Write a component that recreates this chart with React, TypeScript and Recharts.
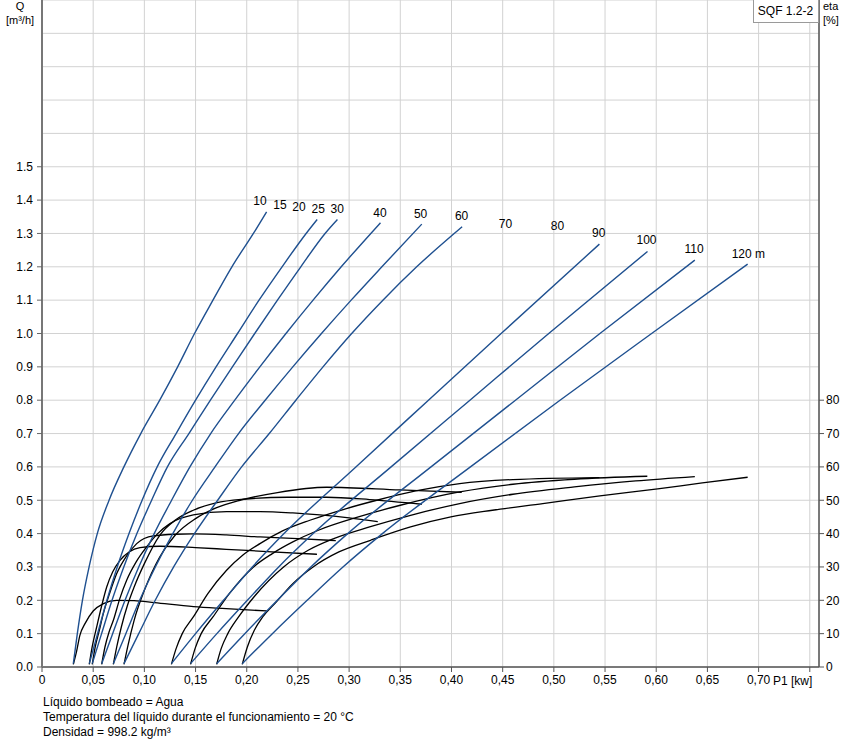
import React from 'react';
import { ComposedChart, Line, XAxis, YAxis, CartesianGrid, Scatter } from 'recharts';

// ---- axis ticks ----
const P_TICKS = [0, 0.05, 0.1, 0.15, 0.2, 0.25, 0.3, 0.35, 0.4, 0.45, 0.5, 0.55, 0.6, 0.65, 0.7, 0.75];
const Q_TICKS = [0, 0.1, 0.2, 0.3, 0.4, 0.5, 0.6, 0.7, 0.8, 0.9, 1.0, 1.1, 1.2, 1.3, 1.4, 1.5, 1.6, 1.7, 1.8, 1.9, 2.0];
const Q_LABEL_MAX = 1.5;
const ETA_TICKS = [0, 10, 20, 30, 40, 50, 60, 70, 80];

// ---- Q (m3/h) vs P1 (kW) curves ----
const QA_P = [0.0306, 0.0345, 0.0395, 0.046, 0.054, 0.0655, 0.080, 0.0965, 0.115, 0.1325, 0.149, 0.167, 0.1855, 0.2065, 0.2194];
const QA_Q = [0.01, 0.1, 0.2, 0.3, 0.4, 0.5, 0.6, 0.7, 0.8, 0.9, 1.0, 1.1, 1.2, 1.3, 1.365];
const QB_P = [0.0462, 0.0543, 0.0634, 0.0735, 0.085, 0.0978, 0.1125, 0.131, 0.150, 0.170, 0.191, 0.212, 0.2345, 0.258, 0.2688];
const QB_Q = [0.01, 0.1, 0.2, 0.3, 0.4, 0.5, 0.6, 0.7, 0.8, 0.9, 1.0, 1.1, 1.2, 1.3, 1.342];
const QC_P = [0.0491, 0.0582, 0.0684, 0.0799, 0.0927, 0.1071, 0.1225, 0.1435, 0.1645, 0.186, 0.2078, 0.230, 0.2528, 0.2765, 0.2886];
const QC_Q = [0.01, 0.1, 0.2, 0.3, 0.4, 0.5, 0.6, 0.7, 0.8, 0.9, 1.0, 1.1, 1.2, 1.3, 1.342];
const QD_P = [0.0583, 0.069, 0.0811, 0.0945, 0.1096, 0.1266, 0.1445, 0.1648, 0.1883, 0.2128, 0.2383, 0.2648, 0.2923, 0.3306];
const QD_Q = [0.01, 0.1, 0.2, 0.3, 0.4, 0.5, 0.6, 0.7, 0.8, 0.9, 1.0, 1.1, 1.2, 1.332];
const QE_P = [0.0697, 0.0819, 0.0954, 0.1107, 0.1278, 0.1469, 0.169, 0.192, 0.218, 0.245, 0.273, 0.302, 0.332, 0.371];
const QE_Q = [0.01, 0.1, 0.2, 0.3, 0.4, 0.5, 0.6, 0.7, 0.8, 0.9, 1.0, 1.1, 1.2, 1.328];
const QF_P = [0.0801, 0.0945, 0.1106, 0.1286, 0.1489, 0.1716, 0.195, 0.222, 0.248, 0.2745, 0.3025, 0.333, 0.366, 0.4104];
const QF_Q = [0.01, 0.1, 0.2, 0.3, 0.4, 0.5, 0.6, 0.7, 0.8, 0.9, 1.0, 1.1, 1.2, 1.32];
const QG_P = [0.1264, 0.150, 0.1773, 0.2055, 0.2364, 0.3066, 0.3775, 0.4485, 0.5445];
const QG_Q = [0.01, 0.1, 0.2, 0.3, 0.4, 0.6, 0.8, 1.0, 1.268];
const QH_P = [0.1451, 0.1708, 0.2006, 0.2312, 0.2649, 0.341, 0.418, 0.495, 0.5915];
const QH_Q = [0.01, 0.1, 0.2, 0.3, 0.4, 0.6, 0.8, 1.0, 1.246];
const QI_P = [0.1706, 0.1981, 0.2299, 0.2626, 0.2986, 0.380, 0.4625, 0.545, 0.6377];
const QI_Q = [0.01, 0.1, 0.2, 0.3, 0.4, 0.6, 0.8, 1.0, 1.22];
const QJ_P = [0.1956, 0.225, 0.259, 0.294, 0.3325, 0.4185, 0.506, 0.5955, 0.6893];
const QJ_Q = [0.01, 0.1, 0.2, 0.3, 0.4, 0.6, 0.8, 1.0, 1.208];

// ---- eta (%) vs P1 (kW) curves ----
const EA_P = [0.0306, 0.034, 0.037, 0.042, 0.05, 0.06, 0.073, 0.09, 0.11, 0.148, 0.18, 0.2197];
const EA_E = [0.8, 5, 9.5, 13, 16.8, 19, 20, 19.9, 19.3, 18.1, 17.5, 16.8];
const EB_P = [0.0462, 0.049, 0.0534, 0.058, 0.0632, 0.069, 0.0762, 0.085, 0.0957, 0.115, 0.15, 0.18, 0.22, 0.2686];
const EB_E = [0.8, 6, 12, 18, 24, 28.5, 32, 34.5, 35.8, 36.2, 35.8, 35.3, 34.6, 33.8];
const EC_P = [0.0491, 0.052, 0.056, 0.0599, 0.066, 0.073, 0.082, 0.0925, 0.1087, 0.13, 0.1478, 0.18, 0.213, 0.25, 0.287];
const EC_E = [0.8, 6, 11, 16, 22, 28, 33, 37, 39.3, 39.8, 39.9, 39.6, 39, 38.5, 37.9];
const ED_P = [0.0583, 0.0615, 0.0655, 0.0697, 0.076, 0.0827, 0.092, 0.1022, 0.113, 0.125, 0.1478, 0.1803, 0.213, 0.245, 0.2715, 0.3, 0.328];
const ED_E = [0.8, 6, 10.5, 14, 20.5, 26, 31.5, 36, 40, 43, 45.6, 46.6, 46.6, 46.2, 45.6, 44.7, 43.6];
const EE_P = [0.0697, 0.073, 0.0775, 0.0835, 0.09, 0.1, 0.115, 0.13, 0.1478, 0.17, 0.1966, 0.24, 0.278, 0.32, 0.371];
const EE_E = [0.8, 6, 12, 18.5, 24, 31, 39.5, 44, 47, 49.2, 50.3, 50.9, 50.9, 50.2, 48.8];
const EF_P = [0.0801, 0.084, 0.09, 0.1, 0.115, 0.13, 0.15, 0.17, 0.1934, 0.23, 0.278, 0.3496, 0.41];
const EF_E = [0.8, 6.5, 14, 23, 33, 39.5, 44.5, 47.7, 50, 52.3, 53.9, 53.1, 52.4];
const EG_P = [0.1264, 0.131, 0.137, 0.1478, 0.162, 0.1803, 0.196, 0.2129, 0.235, 0.2617, 0.295, 0.327, 0.365, 0.408, 0.46, 0.5445];
const EG_E = [0.8, 5.5, 10, 15, 22, 29, 33.5, 37, 40.8, 44, 47.3, 50, 52.8, 55, 56.2, 56.8];
const EH_P = [0.1451, 0.1495, 0.1555, 0.167, 0.183, 0.2066, 0.225, 0.245, 0.27, 0.3091, 0.35, 0.408, 0.46, 0.52, 0.5913];
const EH_E = [0.8, 5.5, 10, 15, 22, 30, 34, 37.5, 41, 45, 48.5, 52.5, 54.8, 56.3, 57.2];
const EI_P = [0.1706, 0.175, 0.1815, 0.192, 0.207, 0.236, 0.26, 0.285, 0.32, 0.36, 0.408, 0.46, 0.52, 0.58, 0.6377];
const EI_E = [0.8, 5.5, 10, 15, 21, 30, 35, 38.5, 42, 45.5, 49, 51.8, 54, 55.8, 57.1];
const EJ_P = [0.1956, 0.2006, 0.2074, 0.2156, 0.2274, 0.245, 0.2648, 0.29, 0.3209, 0.36, 0.3994, 0.44, 0.4892, 0.545, 0.6014, 0.645, 0.6893];
const EJ_E = [0.8, 6, 11, 15, 19, 25, 30, 34.5, 38, 42, 45, 47, 49, 51.3, 53.4, 55.2, 56.9];

// ---- head labels (m) ----
const HEAD_TEXT = ['10', '15', '20', '25', '30', '40', '50', '60', '70', '80', '90', '100', '110', '120 m'];
const HEAD_P = [0.2129, 0.2324, 0.251, 0.2698, 0.2884, 0.3301, 0.3698, 0.4099, 0.4528, 0.5036, 0.5439, 0.5905, 0.637, 0.69];
const HEAD_Q = [1.397, 1.385, 1.38, 1.373, 1.373, 1.362, 1.358, 1.354, 1.33, 1.322, 1.302, 1.282, 1.254, 1.24];

const zip = (ps: number[], vs: number[]) => ps.map((p, i) => ({ p, v: vs[i] }));

const Q_SERIES = [
  zip(QA_P, QA_Q), zip(QB_P, QB_Q), zip(QC_P, QC_Q), zip(QD_P, QD_Q), zip(QE_P, QE_Q),
  zip(QF_P, QF_Q), zip(QG_P, QG_Q), zip(QH_P, QH_Q), zip(QI_P, QI_Q), zip(QJ_P, QJ_Q),
];
const ETA_SERIES = [
  zip(EA_P, EA_E), zip(EB_P, EB_E), zip(EC_P, EC_E), zip(ED_P, ED_E), zip(EE_P, EE_E),
  zip(EF_P, EF_E), zip(EG_P, EG_E), zip(EH_P, EH_E), zip(EI_P, EI_E), zip(EJ_P, EJ_E),
];
const HEAD_DATA = HEAD_TEXT.map((label, i) => ({ label, p: HEAD_P[i], v: HEAD_Q[i] }));

const FONT = '"Liberation Sans", Arial, "DejaVu Sans", sans-serif';
const BLUE = '#1f5090';

const fmtP = (v: number) => (v === 0 ? '0' : v >= 0.749 ? '' : v.toFixed(2).replace('.', ','));

const QTick = (props: any) => {
  const { x, y, payload } = props;
  const v = Number(payload && payload.value);
  if (!(v <= Q_LABEL_MAX + 0.01)) return <g />;
  return (
    <g>
      <line x1={x + 4} x2={x + 9} y1={y} y2={y} stroke="#666" />
      <text x={x} y={y} dy="0.355em" textAnchor="end" fontSize={12} fill="#000" fontFamily={FONT}>
        {v.toFixed(1)}
      </text>
    </g>
  );
};

const HeadLabel = (props: any) => {
  const { cx, cy, payload } = props;
  if (cx == null || cy == null) return <g />;
  return (
    <text x={cx} y={cy} dy="0.36em" textAnchor="middle" fontSize={12} fill="#000" fontFamily={FONT}>
      {payload.label}
    </text>
  );
};

export default function App() {
  return (
    <div style={{ position: 'absolute', left: 0, top: 0, width: 847, height: 742, background: '#fff', fontFamily: FONT }}>
      <ComposedChart width={847} height={742} margin={{ top: 0, right: 0, bottom: 0, left: 0 }}>
        <CartesianGrid xAxisId="x" yAxisId="q" stroke="#d2d2d2" strokeWidth={1} />
        <XAxis
          xAxisId="x"
          type="number"
          dataKey="p"
          domain={[0, 0.759]}
          allowDataOverflow
          ticks={P_TICKS}
          interval={0}
          tickFormatter={fmtP}
          height={75}
          tickSize={5}
          tickMargin={3}
          tick={{ fontSize: 12, fill: '#000', fontFamily: FONT }}
          axisLine={{ stroke: '#555', strokeWidth: 1.5 }}
          tickLine={{ stroke: '#555' }}
        />
        <YAxis
          yAxisId="q"
          type="number"
          domain={[0, 2]}
          allowDataOverflow
          ticks={Q_TICKS}
          interval={0}
          width={42}
          tickSize={5}
          tickMargin={4}
          tick={QTick}
          tickLine={false}
          axisLine={{ stroke: '#777', strokeWidth: 2 }}
        />
        <YAxis
          yAxisId="eta"
          orientation="right"
          type="number"
          domain={[0, 200]}
          allowDataOverflow
          ticks={ETA_TICKS}
          interval={0}
          width={28}
          tickSize={5}
          tickMargin={2}
          tick={{ fontSize: 12, fill: '#000', fontFamily: FONT }}
          axisLine={{ stroke: '#555', strokeWidth: 1.5 }}
          tickLine={{ stroke: '#555' }}
        />
        {ETA_SERIES.map((d, i) => (
          <Line
            key={'e' + i}
            xAxisId="x"
            yAxisId="eta"
            data={d}
            dataKey="v"
            type="monotone"
            stroke="#000"
            strokeWidth={1.3}
            dot={false}
            activeDot={false}
            isAnimationActive={false}
          />
        ))}
        {Q_SERIES.map((d, i) => (
          <Line
            key={'q' + i}
            xAxisId="x"
            yAxisId="q"
            data={d}
            dataKey="v"
            type="monotone"
            stroke={BLUE}
            strokeWidth={1.4}
            dot={false}
            activeDot={false}
            isAnimationActive={false}
          />
        ))}
        <Scatter
          xAxisId="x"
          yAxisId="q"
          data={HEAD_DATA}
          dataKey="v"
          shape={HeadLabel}
          isAnimationActive={false}
        />
      </ComposedChart>
      <svg
        width={847}
        height={742}
        style={{ position: 'absolute', left: 0, top: 0, pointerEvents: 'none' }}
        fontFamily={FONT}
      >
        <text x={20} y={10} textAnchor="middle" fill="#000" fontSize={11}>Q</text>
        <text x={20} y={23.5} textAnchor="middle" fill="#000" fontSize={11}>[m³/h]</text>
        <text x={823} y={10} textAnchor="start" fill="#000" fontSize={11}>eta</text>
        <text x={823} y={23.5} textAnchor="start" fill="#000" fontSize={11}>[%]</text>
        <rect x={753.5} y={-1} width={65} height={23.5} fill="#fff" stroke="#9a9a9a" />
        <text x={785.5} y={15} textAnchor="middle" fill="#000" fontSize={12}>SQF 1.2-2</text>
        <text x={773} y={684.5} textAnchor="start" fill="#000" fontSize={12}>P1 [kw]</text>
        <text x={43} y={706} fill="#000" fontSize={12}>Líquido bombeado = Agua</text>
        <text x={43} y={721} fill="#000" fontSize={12}>Temperatura del líquido durante el funcionamiento = 20 °C</text>
        <text x={43} y={736} fill="#000" fontSize={12}>Densidad = 998.2 kg/m³</text>
      </svg>
    </div>
  );
}
